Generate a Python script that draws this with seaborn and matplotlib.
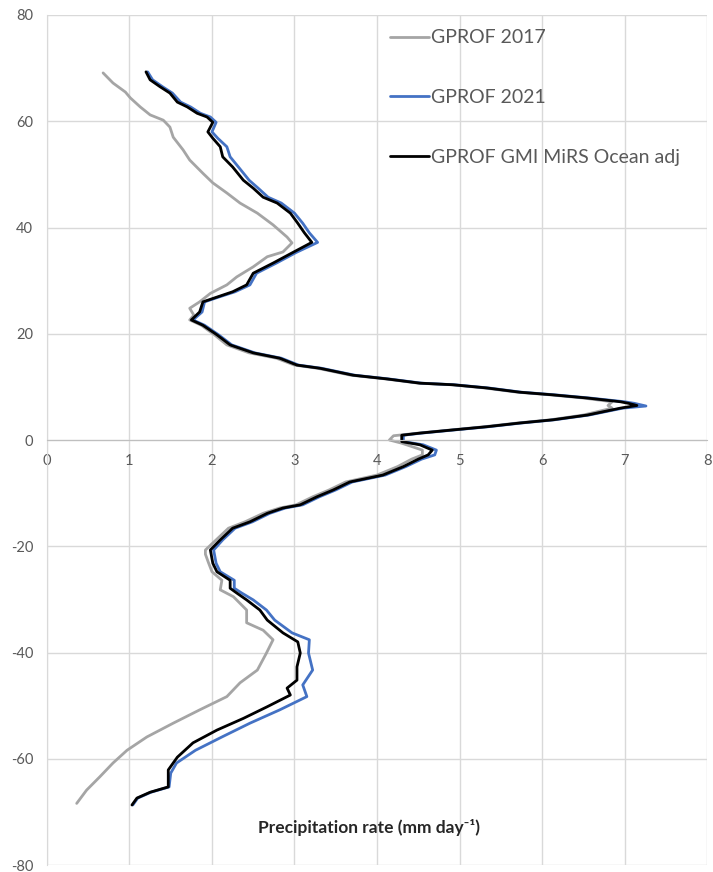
import matplotlib
matplotlib.use('Agg')
import matplotlib.pyplot as plt
import seaborn as sns
import pandas as pd

# latitude (deg) vs zonal mean precipitation rate (mm/day)
lat_2017 = [69.1, 67.2, 65.5, 64.4, 62.7, 61.2, 60.2, 58.9, 57.0, 54.6,
            52.7, 50.2, 48.4, 46.5, 44.6, 42.7, 40.5, 38.2, 37.1, 35.4,
            34.5, 32.6, 30.7, 29.2, 27.6, 26.0, 24.8, 23.5, 22.6, 21.6,
            19.8, 17.9, 16.4, 15.4, 14.1, 13.5, 12.2, 11.5, 10.7, 10.4,
            9.8, 9.0, 8.5, 7.9, 7.2, 6.5, 6.0, 4.7, 3.8, 3.2,
            2.5, 1.9, 1.3, 0.8, 0.0, -0.6, -1.9, -2.8, -3.6, -5.0,
            -6.6, -7.9, -9.4, -10.7, -12.2, -12.8, -13.8, -15.4, -16.6, -18.8,
            -20.7, -21.5, -23.2, -24.8, -26.4, -28.2, -29.5, -32.0, -34.4, -35.8,
            -37.6, -40.1, -43.3, -45.7, -48.3, -50.8, -53.3, -55.9, -58.4, -60.8,
            -63.4, -65.9, -68.4]
rate_2017 = [0.68, 0.80, 0.95, 1.01, 1.13, 1.25, 1.41, 1.49, 1.53, 1.65,
             1.73, 1.89, 2.01, 2.18, 2.34, 2.55, 2.74, 2.91, 2.97, 2.86,
             2.67, 2.50, 2.30, 2.18, 1.98, 1.85, 1.73, 1.78, 1.73, 1.87,
             2.03, 2.18, 2.45, 2.78, 3.00, 3.28, 3.68, 4.10, 4.50, 4.90,
             5.30, 5.70, 6.10, 6.50, 6.85, 6.80, 6.85, 6.50, 6.10, 5.70,
             5.30, 4.90, 4.50, 4.20, 4.15, 4.30, 4.55, 4.55, 4.42, 4.25,
             4.00, 3.62, 3.42, 3.22, 3.02, 2.82, 2.62, 2.40, 2.20, 2.05,
             1.92, 1.92, 1.96, 2.00, 2.12, 2.10, 2.26, 2.42, 2.42, 2.62,
             2.74, 2.66, 2.55, 2.34, 2.18, 1.85, 1.53, 1.21, 0.97, 0.80,
             0.64, 0.48, 0.36]

lat_2021 = [69.3, 67.8, 66.5, 65.3, 63.6, 62.7, 61.5, 60.8, 59.8, 58.0,
            56.8, 55.2, 53.3, 51.4, 48.9, 47.4, 45.7, 44.6, 42.7, 40.8,
            39.0, 37.2, 35.3, 33.3, 31.4, 29.2, 27.9, 26.9, 26.0, 24.1,
            22.6, 21.6, 19.8, 17.9, 16.4, 15.4, 14.1, 13.5, 12.2, 11.5,
            10.7, 10.4, 9.8, 9.0, 8.5, 7.9, 7.2, 6.9, 6.4, 6.0,
            4.7, 3.8, 3.2, 2.5, 1.9, 1.3, 0.9, -0.3, -0.9, -1.9,
            -2.8, -3.6, -5.0, -6.6, -7.9, -9.4, -10.7, -12.2, -12.8, -13.8,
            -15.4, -16.6, -18.8, -20.7, -23.2, -24.8, -26.4, -27.9, -28.8, -30.1,
            -32.0, -33.9, -36.3, -37.6, -40.1, -43.3, -46.1, -48.3, -50.8, -53.3,
            -55.9, -58.4, -60.8, -62.7, -65.3, -66.3, -67.4, -68.7]
rate_2021 = [1.22, 1.28, 1.40, 1.52, 1.62, 1.74, 1.86, 1.98, 2.05, 2.00,
             2.07, 2.18, 2.22, 2.32, 2.45, 2.56, 2.68, 2.84, 3.00, 3.10,
             3.18, 3.28, 3.02, 2.78, 2.54, 2.46, 2.28, 2.08, 1.91, 1.88,
             1.77, 1.91, 2.08, 2.24, 2.52, 2.84, 3.05, 3.33, 3.73, 4.14,
             4.54, 4.94, 5.35, 5.75, 6.16, 6.58, 7.00, 7.12, 7.26, 6.98,
             6.57, 6.15, 5.75, 5.35, 4.94, 4.54, 4.32, 4.32, 4.56, 4.72,
             4.70, 4.54, 4.35, 4.10, 3.70, 3.50, 3.30, 3.10, 2.89, 2.70,
             2.49, 2.28, 2.13, 2.02, 2.05, 2.10, 2.27, 2.27, 2.36, 2.50,
             2.66, 2.76, 2.97, 3.18, 3.17, 3.22, 3.10, 3.15, 2.82, 2.46,
             2.12, 1.80, 1.57, 1.50, 1.48, 1.26, 1.10, 1.04]

lat_mirs = [69.3, 67.8, 66.5, 65.3, 63.6, 62.7, 61.5, 60.8, 59.8, 58.0,
            56.8, 55.2, 53.3, 51.4, 48.9, 47.4, 45.7, 44.6, 42.7, 40.8,
            39.0, 37.2, 35.3, 33.3, 31.4, 29.2, 27.9, 26.9, 26.0, 24.1,
            22.6, 21.6, 19.8, 17.9, 16.4, 15.4, 14.1, 13.5, 12.2, 11.5,
            10.7, 10.4, 9.8, 9.0, 8.5, 7.9, 7.2, 6.9, 6.5, 6.0,
            4.7, 3.8, 3.2, 2.5, 1.9, 1.3, 0.9, -0.3, -0.9, -1.9,
            -2.8, -3.6, -5.0, -6.6, -7.9, -9.4, -10.7, -12.2, -12.8, -13.8,
            -15.4, -16.6, -18.8, -20.7, -23.2, -24.8, -26.4, -27.9, -28.8, -30.1,
            -32.0, -33.9, -36.3, -38.0, -40.1, -42.7, -45.2, -46.7, -48.0, -50.2,
            -52.4, -54.6, -57.0, -59.7, -62.1, -65.3, -66.3, -67.4, -68.7]
rate_mirs = [1.20, 1.25, 1.37, 1.49, 1.58, 1.70, 1.82, 1.94, 2.01, 1.95,
             2.01, 2.10, 2.13, 2.25, 2.38, 2.50, 2.62, 2.79, 2.95, 3.04,
             3.12, 3.21, 2.98, 2.74, 2.50, 2.42, 2.25, 2.06, 1.89, 1.85,
             1.75, 1.89, 2.06, 2.22, 2.50, 2.82, 3.03, 3.31, 3.71, 4.12,
             4.52, 4.92, 5.33, 5.73, 6.13, 6.55, 6.95, 7.05, 7.15, 6.95,
             6.55, 6.13, 5.73, 5.33, 4.92, 4.52, 4.30, 4.30, 4.52, 4.67,
             4.62, 4.50, 4.32, 4.07, 3.67, 3.47, 3.27, 3.07, 2.86, 2.67,
             2.46, 2.25, 2.10, 1.98, 2.01, 2.06, 2.22, 2.22, 2.30, 2.42,
             2.58, 2.67, 2.86, 3.04, 3.07, 3.03, 3.03, 2.91, 2.95, 2.67,
             2.38, 2.06, 1.77, 1.58, 1.47, 1.47, 1.25, 1.09, 1.03]

labels = ['GPROF 2017', 'GPROF 2021', 'GPROF GMI MiRS Ocean adj']
colors = ['#a5a5a5', '#4472c4', '#000000']
widths = [2.0, 2.0, 2.0]

sns.set_style('whitegrid', {'grid.color': '#d9d9d9'})
plt.rcParams['font.family'] = ['Lato', 'DejaVu Sans']
plt.rcParams['axes.unicode_minus'] = False

fig = plt.figure(figsize=(7.13, 8.72), dpi=100)
ax = fig.add_axes([0.0659, 0.008, 0.9257, 0.9748])

series = [(lat_2017, rate_2017), (lat_2021, rate_2021), (lat_mirs, rate_mirs)]
for (lat, rate), lab, col, lw in zip(series, labels, colors, widths):
    df = pd.DataFrame({'rate': rate, 'lat': lat})
    sns.lineplot(data=df, x='rate', y='lat', sort=False, estimator=None,
                 color=col, linewidth=lw, label=lab, ax=ax)

ax.set_xlim(0, 8)
ax.set_ylim(-80, 80)
ax.set_xticks(range(0, 9))
ax.set_yticks(range(-80, 81, 20))
ax.set_xlabel('')
ax.set_ylabel('')
ax.grid(True, color='#d9d9d9', linewidth=1.0)
ax.set_axisbelow(True)

for s in ['top', 'right']:
    ax.spines[s].set_visible(False)
ax.spines['bottom'].set_position(('data', 0))
ax.spines['bottom'].set_color('#bfbfbf')
ax.spines['left'].set_color('#d9d9d9')
ax.tick_params(axis='both', length=0, labelsize=10.5, labelcolor='#595959')
ax.tick_params(axis='x', pad=10)
ax.tick_params(axis='y', pad=10)

leg = ax.legend(loc='upper left', bbox_to_anchor=(0.52, 0.983), frameon=False,
                fontsize=14, labelspacing=2.2, handlelength=2.0,
                handletextpad=0.1, borderpad=0, borderaxespad=0)
for t in leg.get_texts():
    t.set_color('#595959')

ax.text(3.9, -73, 'Precipitation rate (mm day⁻¹)', ha='center', va='center',
        fontsize=12.5, fontweight='bold', color='#262626')

fig.savefig('out.png', dpi=100)
